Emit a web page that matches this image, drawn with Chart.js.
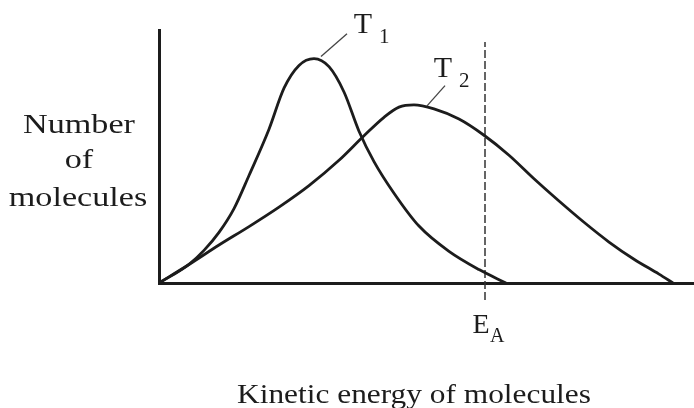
<!DOCTYPE html>
<html>
<head>
<meta charset="utf-8">
<script src="https://cdn.jsdelivr.net/npm/chart.js@4.4.1/dist/chart.umd.min.js"></script>
<style>
  html, body { margin: 0; padding: 0; background: #fff; }
  #wrap { width: 694px; height: 408px; }
</style>
</head>
<body>
<div id="wrap"><canvas id="energyChart"></canvas></div>
<script>
// Kinetic energy (x) vs number of molecules (y)
const t1Energy = [0, 0.6, 0.9, 1.2, 1.5, 1.8, 2.2, 2.5, 2.8, 3.1, 3.4, 3.7, 4.0, 4.3, 4.7, 5.2, 5.8, 6.4, 6.94];
const t1Count  = [0, 0.74, 1.29, 2.0, 2.94, 4.25, 6.08, 7.7, 8.6, 8.87, 8.55, 7.55, 6.0, 4.8, 3.55, 2.25, 1.25, 0.53, 0];
const t2Energy = [0, 0.6, 1.2, 1.8, 2.4, 3.0, 3.6, 4.1, 4.5, 4.8, 5.1, 5.5, 6.0, 6.5, 7.0, 7.5, 8.0, 8.5, 9.0, 9.5, 10.0, 10.28];
const t2Count  = [0, 0.73, 1.5, 2.23, 3.0, 3.85, 4.85, 5.82, 6.55, 6.95, 7.04, 6.88, 6.48, 5.84, 5.05, 4.12, 3.24, 2.4, 1.62, 0.94, 0.35, 0];
const eaEnergy = 6.52;
const eaSpan   = [-0.67, 9.53];
const seriesNames = ['T', 'T'];
const seriesSubs  = ['1', '2'];

const ink = '#1c1c1c';
const toPoints = (xs, ys) => xs.map((x, i) => ({ x: x, y: ys[i] }));

// draws the labels and leader lines (anchored to the data scales)
const labelsPlugin = {
  id: 'labels',
  afterDraw(chart) {
    const ctx = chart.ctx;
    const sx = chart.scales.x, sy = chart.scales.y;
    const X = v => sx.getPixelForValue(v), Y = v => sy.getPixelForValue(v);
    ctx.save();
    ctx.fillStyle = ink;
    ctx.strokeStyle = '#444';
    ctx.lineWidth = 1.3;

    // leader lines: [fromX, fromY, toX, toY] in data units
    const leaders = [[3.24, 8.95, 3.76, 9.85], [5.36, 7.0, 5.72, 7.8]];
    const tags = [[4.08, 9.9], [5.68, 8.15]];
    leaders.forEach((l, i) => {
      ctx.beginPath();
      ctx.moveTo(X(l[0]), Y(l[1]));
      ctx.lineTo(X(l[2]), Y(l[3]));
      ctx.stroke();
      const tx = X(tags[i][0]), ty = Y(tags[i][1]);
      ctx.font = '30px "Liberation Serif"';
      ctx.textAlign = 'center';
      ctx.textBaseline = 'alphabetic';
      ctx.fillText(seriesNames[i], tx, ty);
      ctx.font = '21px "Liberation Serif"';
      ctx.textAlign = 'left';
      ctx.fillText(seriesSubs[i], tx + 16, ty + 10);
    });

    // E_A under the dashed line
    const ex = X(eaEnergy);
    ctx.font = '28px "Liberation Serif"';
    ctx.textAlign = 'center';
    ctx.fillText('E', ex - 4, 333);
    ctx.font = '20px "Liberation Serif"';
    ctx.textAlign = 'left';
    ctx.fillText('A', ex + 5, 342);

    // axis titles
    const stretched = (txt, cx, by, k) => {
      ctx.save();
      ctx.translate(cx, by);
      ctx.scale(k, 1);
      ctx.textAlign = 'center';
      ctx.fillText(txt, 0, 0);
      ctx.restore();
    };
    ctx.font = '28px "Liberation Serif"';
    stretched('Number', 79, 133, 1.22);
    stretched('of', 79, 168, 1.22);
    stretched('molecules', 78, 206, 1.22);
    stretched('Kinetic energy of molecules', 414, 403, 1.12);
    ctx.restore();
  }
};

new Chart(document.getElementById('energyChart'), {
  type: 'line',
  data: {
    datasets: [
      {
        label: 'T1',
        data: toPoints(t1Energy, t1Count),
        borderColor: ink,
        borderWidth: 2.8,
        pointRadius: 0,
        cubicInterpolationMode: 'monotone'
      },
      {
        label: 'T2',
        data: toPoints(t2Energy, t2Count),
        borderColor: ink,
        borderWidth: 2.8,
        pointRadius: 0,
        cubicInterpolationMode: 'monotone'
      },
      {
        label: 'EA',
        data: eaSpan.map(y => ({ x: eaEnergy, y: y })),
        borderColor: '#333',
        borderWidth: 1.5,
        borderDash: [8, 3],
        pointRadius: 0,
        clip: false
      }
    ]
  },
  options: {
    responsive: true,
    maintainAspectRatio: false,
    animation: false,
    layout: { padding: { left: 159, right: 0, top: 30, bottom: 125 } },
    scales: {
      x: {
        type: 'linear',
        min: 0,
        max: 10.7,
        grid: { display: false, drawTicks: false },
        ticks: { display: false },
        border: { color: ink, width: 3 }
      },
      y: {
        min: 0,
        max: 10,
        grid: { display: false, drawTicks: false },
        ticks: { display: false },
        border: { color: ink, width: 3 }
      }
    },
    plugins: {
      legend: { display: false },
      tooltip: { enabled: false }
    }
  },
  plugins: [labelsPlugin]
});
</script>
</body>
</html>
